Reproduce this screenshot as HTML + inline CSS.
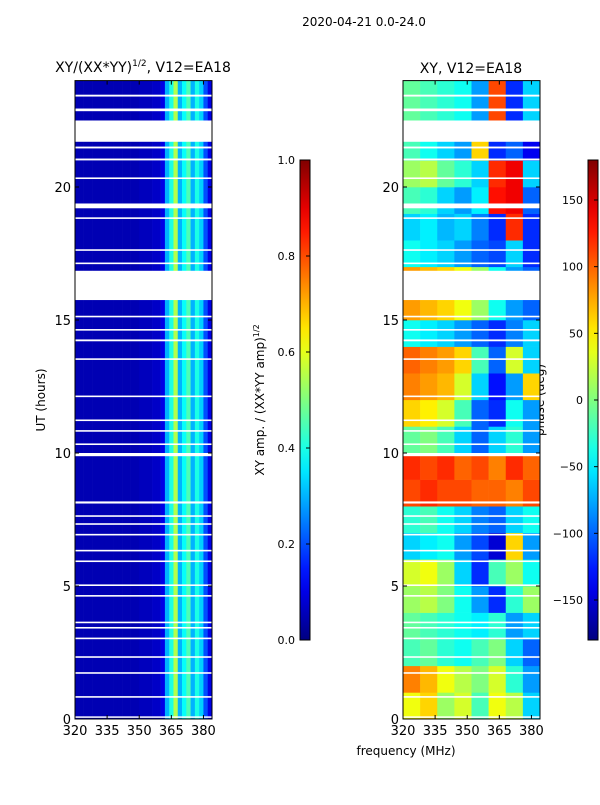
<!DOCTYPE html>
<html><head><meta charset="utf-8">
<style>
html,body{margin:0;padding:0;background:#fff;}
svg text{font-family:"DejaVu Sans","Liberation Sans",sans-serif;fill:#000;}
</style></head>
<body>
<svg id="fig" width="600" height="800" viewBox="0 0 600 800" xmlns="http://www.w3.org/2000/svg">
  <text x="364" y="26" font-size="12" text-anchor="middle">2020-04-21 0.0-24.0</text>
  <text x="143" y="72" font-size="14" text-anchor="middle">XY/(XX*YY)<tspan font-size="9" dy="-6">1/2</tspan><tspan dy="6">, V12=EA18</tspan></text>
  <text x="471" y="73" font-size="14" text-anchor="middle">XY, V12=EA18</text>
  <text transform="translate(45,400) rotate(-90)" font-size="12" text-anchor="middle">UT (hours)</text>
  <text transform="translate(264,400) rotate(-90)" font-size="12" text-anchor="middle">XY amp. / (XX*YY amp)<tspan font-size="8" dy="-5">1/2</tspan></text>
  <text transform="translate(544,400) rotate(-90)" font-size="12" text-anchor="middle">phase (deg)</text>
  <text x="406" y="755" font-size="12" text-anchor="middle">frequency (MHz)</text>
  <g id="left"></g><g id="right"></g><g id="cb"></g>
</svg>
<script>
const freqEdgesLeft=[320,322,324,326,328,330,332,334,336,338,340,342,344,346,348,350,352,354,356,358,360,362,364,366,368,370,372,374,376,378,380,382,384];
const ampProfile=[0.05,0.05,0.05,0.05,0.05,0.05,0.05,0.05,0.05,0.05,0.05,0.05,0.05,0.05,0.05,0.06,0.06,0.06,0.07,0.07,0.1,0.3,0.4,0.55,0.3,0.38,0.45,0.3,0.4,0.33,0.2,0.1];
const freqEdgesRight=[320,328,336,344,352,360,368,376,384];
const hourEdges=[0,1,2,3,4,5,6,7,8,9,10,11,12,13,14,15,16,17,18,19,20,21,22,23,24];
const phase=[
[40,60,10,30,-20,40,20,-60],
[90,70,40,20,0,30,-30,-80],
[-20,-10,-30,-40,-20,0,-60,-100],
[-10,-20,-30,-40,-50,-30,-80,-60],
[10,20,0,-40,-80,-120,-30,10],
[30,40,10,-60,-120,-20,10,-40],
[-60,-50,-40,-80,-110,-150,60,-80],
[-30,-20,-40,-60,-90,-100,-60,-40],
[110,120,110,110,100,100,90,110],
[120,110,120,100,110,90,120,100],
[-10,0,-20,-60,-100,-60,-30,-80],
[60,50,30,-20,-100,-120,-40,-80],
[90,80,70,30,-60,-130,-80,60],
[100,90,80,60,-20,-100,30,-60],
[-40,-50,-60,-80,-100,-120,-90,-60],
[80,70,60,40,10,-40,-80,-100],
[80,70,60,40,10,-40,-80,-100],
[-40,-50,-60,-80,-100,-110,-60,-120],
[-60,-50,-70,-60,-90,-120,120,-120],
[-20,-30,-60,-80,-50,130,140,-100],
[10,20,-10,-30,-60,120,140,-60],
[-20,-40,-60,-80,60,-120,-100,-140],
[-10,-20,-30,-40,-80,110,-120,-60],
[-10,-20,-30,-40,-80,110,-120,-60]];
const gapStart=[21.7,15.75,9.88,23.4,22.85,21.45,21.0,20.3,19.2,18.8,17.6,17.1,15.1,14.6,14.2,13.5,12.1,11.2,10.8,10.3,8.1,7.6,7.3,6.9,6.3,5.9,5.0,4.6,3.6,3.4,3.0,2.3,1.7,0.8,0.05];
const gapEnd=  [22.5,16.85,10.0,23.47,22.95,21.52,21.07,20.36,19.38,18.86,17.66,17.16,15.16,14.66,14.27,13.56,12.16,11.26,10.86,10.36,8.18,7.66,7.36,6.96,6.36,5.96,5.06,4.66,3.66,3.46,3.06,2.36,1.76,0.86,0.1];
const ampTicks=[0,0.2,0.4,0.6,0.8,1.0];
const phaseTicks=[-150,-100,-50,0,50,100,150];
const xTicks=[320,335,350,365,380];
const yTicks=[0,5,10,15,20];

const NS="http://www.w3.org/2000/svg";
function jet(t){t=Math.max(0,Math.min(1,t));const c=v=>Math.round(255*Math.max(0,Math.min(1,v)));
 return `rgb(${c(1.5-Math.abs(4*t-3))},${c(1.5-Math.abs(4*t-2))},${c(1.5-Math.abs(4*t-1))})`;}
function mk(tag,attrs,parent){const e=document.createElementNS(NS,tag);for(const k in attrs)e.setAttribute(k,attrs[k]);parent.appendChild(e);return e;}
const Y0=719,Y1=80.6;
const yScale=h=>Y0-(h/24)*(Y0-Y1);
function panel(gid,x0){
 const g=document.getElementById(gid);
 return {g,x:f=>x0+(f-320)*(137/64)};
}
(function(){
 const P=panel('left',75);const g=P.g;
 for(let j=0;j<ampProfile.length;j++){
  const r=mk('rect',{x:P.x(freqEdgesLeft[j]),y:Y1,width:P.x(freqEdgesLeft[j+1])-P.x(freqEdgesLeft[j])+0.3,height:Y0-Y1,fill:jet(ampProfile[j])},g);
  
  
 }
 drawGaps(g,75);drawAxes(g,75);
})();
(function(){
 const P=panel('right',403);const g=P.g;
 for(let i=0;i<phase.length;i++)for(let j=0;j<phase[i].length;j++){
  const r=mk('rect',{x:P.x(freqEdgesRight[j]),y:yScale(hourEdges[i+1]),width:P.x(freqEdgesRight[j+1])-P.x(freqEdgesRight[j])+0.3,height:yScale(hourEdges[i])-yScale(hourEdges[i+1])+0.3,fill:jet((phase[i][j]+180)/360)},g);
  
  
 }
 drawGaps(g,403);drawAxes(g,403);
})();
function drawGaps(g,x0){
 for(let k=0;k<gapStart.length;k++){
  const r=mk('rect',{x:x0,y:yScale(gapEnd[k]),width:137,height:Math.max(1.5,yScale(gapStart[k])-yScale(gapEnd[k])),fill:'#fff'},g);
  
  
 }
}
function drawAxes(g,x0){
 const fr=mk('rect',{x:x0,y:Y1,width:137,height:Y0-Y1,fill:'none',stroke:'#000','stroke-width':1},g);
 
 
 const xs=f=>x0+(f-320)*(137/64);
 xTicks.forEach(t=>{
  mk('line',{x1:xs(t),x2:xs(t),y1:Y0,y2:Y0-4,stroke:'#000'},g);
  mk('line',{x1:xs(t),x2:xs(t),y1:Y1,y2:Y1+4,stroke:'#000'},g);
  const tx=mk('text',{x:xs(t),y:Y0+16,'font-size':13,'text-anchor':'middle'},g);tx.textContent=t;
  
  
 });
 yTicks.forEach(t=>{
  mk('line',{x1:x0,x2:x0+4,y1:yScale(t),y2:yScale(t),stroke:'#000'},g);
  mk('line',{x1:x0+137,x2:x0+133,y1:yScale(t),y2:yScale(t),stroke:'#000'},g);
  const tx=mk('text',{x:x0-4,y:yScale(t)+5,'font-size':13,'text-anchor':'end'},g);tx.textContent=t;
  
  
 });
}
(function(){
 const g=document.getElementById('cb');
 const defs=mk('defs',{},g);
 const lg=mk('linearGradient',{id:'jetg',x1:0,y1:1,x2:0,y2:0},defs);
 for(let i=0;i<=20;i++)mk('stop',{offset:i/20,'stop-color':jet(i/20)},lg);
 function bar(x,ticks,lo,hi,name,fmt){
  const r=mk('rect',{x:x,y:160,width:10,height:480,fill:'url(#jetg)',stroke:'#000','stroke-width':1},g);
  
  
  ticks.forEach(t=>{const y=640-(t-lo)/(hi-lo)*480;
   mk('line',{x1:x+6,x2:x+10,y1:y,y2:y,stroke:'#000'},g);
   const tx=mk('text',{x:x-5,y:y+4,'font-size':11,'text-anchor':'end'},g);tx.textContent=fmt(t);
   
   });
 }
 bar(300,ampTicks,0,1,'amp-colorbar',t=>t.toFixed(1));
 bar(588,phaseTicks,-180,180,'phase-colorbar',t=>t<0?'\u2212'+(-t):String(t));
})();
</script>
</body></html>
